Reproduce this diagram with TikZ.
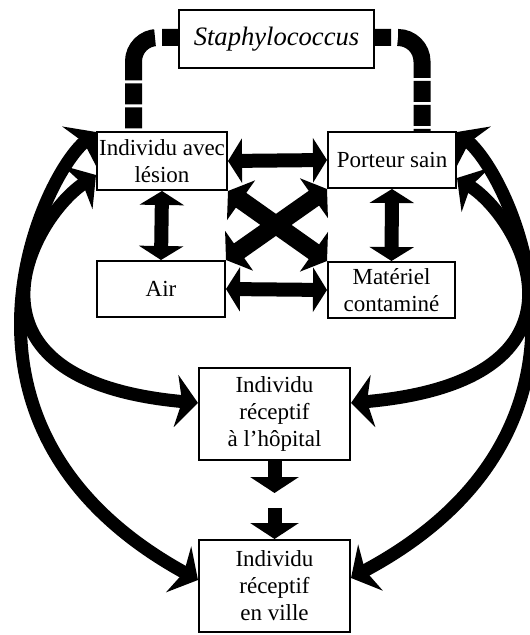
\documentclass[tikz,border=0pt]{standalone}
\usepackage{fontspec}
\setmainfont{Liberation Serif}
\usetikzlibrary{positioning, arrows.meta}

\begin{document}
\begin{tikzpicture}[x=0.5pt, y=-0.5pt,
    box/.style={draw, line width=1pt, fill=white, align=center, inner sep=1pt,
        font=\fontsize{11.5}{13.5}\selectfont},
    bigarrow/.style={line width=7pt, {Triangle[width=22pt,length=7pt]}-{Triangle[width=22pt,length=7pt]}},
    crossarrow/.style={line width=9pt, {Triangle[width=24pt,length=8pt]}-{Triangle[width=24pt,length=8pt]}},
    downarrow/.style={line width=7pt, -{Triangle[width=24pt,length=8pt]}},
    curvearrow/.style={line width=6.5pt, {Stealth[width=26pt,length=11pt,inset=3pt]}-{Stealth[width=26pt,length=11pt,inset=3pt]}},
    dashlink/.style={line width=8.5pt, rounded corners=12pt,
        dash pattern=on 8pt off 3.5pt on 27pt off 1.5pt on 10.5pt off 1.5pt on 10.5pt off 1.5pt on 30pt off 1pt}]
    \useasboundingbox (0,0) rectangle (529,635);

    % Boxes
    \node[box, minimum width=97.5pt, minimum height=29pt,
        font=\fontsize{13.3}{16}\selectfont\itshape] (staph) at (276.5,39) {Staphylococcus};
    \node[box, minimum width=65pt, minimum height=29pt] (lesion) at (162,161) {Individu avec\\lésion};
    \node[box, minimum width=64pt, minimum height=28pt] (porteur) at (392,160) {Porteur sain};
    \node[box, minimum width=64pt, minimum height=28pt] (air) at (161,289) {Air};
    \node[box, minimum width=63.5pt, minimum height=28pt] (mat) at (391.5,290) {Matériel\\contaminé};
    \node[box, minimum width=75.5pt, minimum height=46pt] (hop) at (274.5,414) {Individu\\réceptif\\à l'hôpital};
    \node[box, minimum width=75.5pt, minimum height=46pt] (ville) at (274.5,586) {Individu\\réceptif\\en ville};

    % Dashed links from the germ
    \draw[dashlink] ([yshift=0.75pt]staph.west) -| ([xshift=-14.25pt]lesion.north);
    \draw[dashlink] ([yshift=0.75pt]staph.east) -| ([xshift=15pt]porteur.north);

    % Exchanges between the four sources
    \draw[bigarrow] (lesion.east) -- (porteur.west);
    \draw[bigarrow] (air.east) -- (mat.west);
    \draw[bigarrow] (lesion.south) -- (air.north);
    \draw[bigarrow] (porteur.south) -- (mat.north);
    \draw[crossarrow] (lesion.south east) -- (mat.north west);
    \draw[crossarrow] (porteur.south west) -- (air.north east);

    % Hospital to town
    \coordinate (gapA) at (274.5,493);
    \coordinate (gapB) at (274.5,508);
    \draw[downarrow] (hop.south) -- (gapA);
    \draw[downarrow] (gapB) -- (ville.north);

    % Left loops
    \draw[curvearrow] ([yshift=-7pt]lesion.west) .. controls (30,220) and (-55,380) .. ([yshift=5.5pt]hop.west);
    \draw[curvearrow] ([yshift=-0.5pt]lesion.north west) .. controls (40,180) and (-75,430) .. ([yshift=3pt]ville.west);

    % Right loops
    \draw[curvearrow] ([yshift=-9pt]porteur.east) .. controls (523,220) and (608,380) .. ([yshift=5.5pt]hop.east);
    \draw[curvearrow] ([yshift=-0.5pt]porteur.north east) .. controls (513,180) and (628,430) .. ([yshift=4pt]ville.east);
\end{tikzpicture}
\end{document}
